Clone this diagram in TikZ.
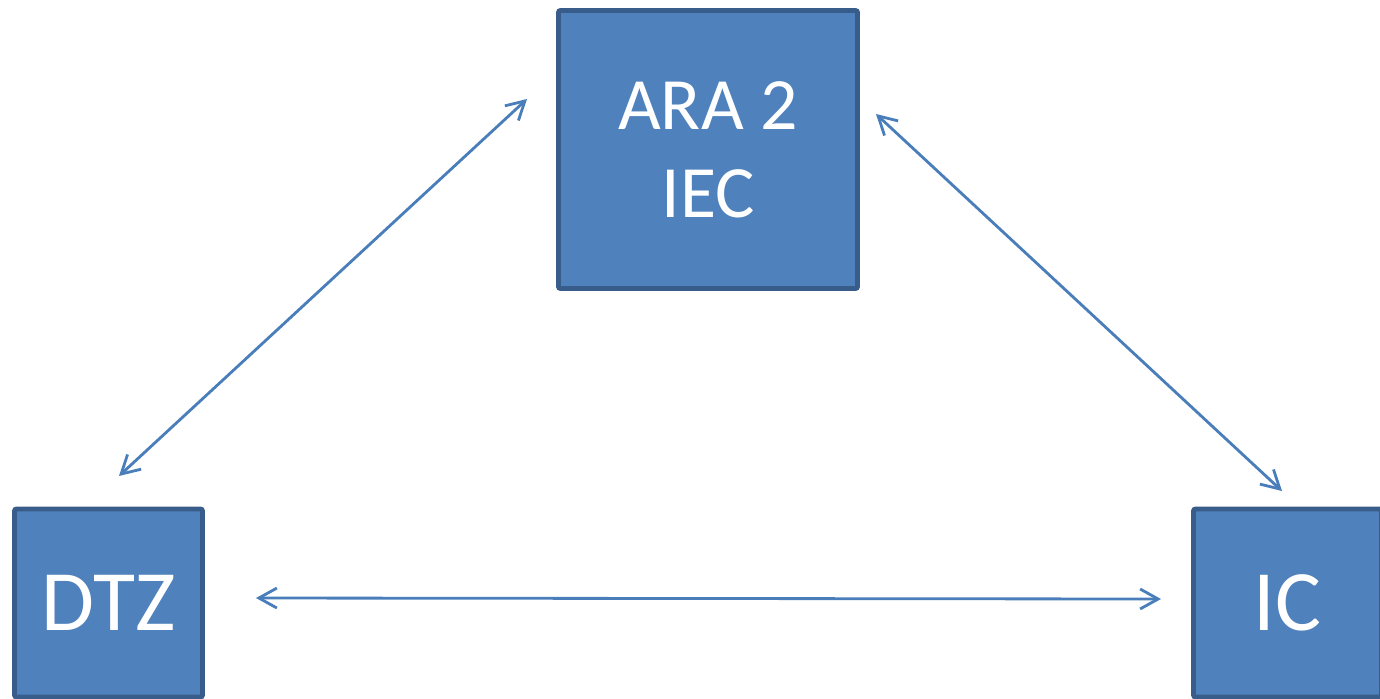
\documentclass[tikz,border=0pt]{standalone}
\usepackage{fontspec}
\setmainfont{Carlito}
\usepackage{xcolor}
\usetikzlibrary{arrows.meta,positioning}
\definecolor{boxfill}{HTML}{4F81BD}
\definecolor{boxline}{HTML}{385D8A}
\definecolor{linkblue}{HTML}{4A7EBB}

\begin{document}
\begin{tikzpicture}[font=\fontsize{21}{25}\selectfont,
   org/.style={draw=boxline,line width=1.4pt,rounded corners=0.6pt,fill=boxfill,
               text=white,align=center,inner sep=0pt},
   small/.style={org,minimum width=1.88cm,minimum height=1.88cm,
                 font=\fontsize{24.5}{28}\selectfont},
   link/.style={draw=linkblue,line width=0.8pt,
                {Straight Barb[length=1.8mm,width=2.0mm]}-{Straight Barb[length=1.8mm,width=2.0mm]}}]
  \useasboundingbox (0,0) rectangle (13.8,-6.98);
  \clip (0,0) rectangle (13.8,-6.98);
  \node[org,minimum width=2.99cm,minimum height=2.78cm] (ara) at (7.08,-1.495) {ARA 2\\IEC};
  \node[small] (dtz) at (1.085,-6.03) {DTZ};
  \node[small] (ic) at (12.875,-6.03) {IC};
  % link ends, kept clear of the boxes
  \coordinate (ara-l) at (5.27,-0.99);
  \coordinate (ara-r) at (8.76,-1.14);
  \coordinate (dtz-t) at (1.19,-4.76);
  \coordinate (dtz-r) at (2.56,-5.98);
  \coordinate (ic-t)  at (12.82,-4.91);
  \coordinate (ic-l)  at (11.61,-5.99);
  \draw[link] (ara-l) -- (dtz-t);
  \draw[link] (ara-r) -- (ic-t);
  \draw[link] (dtz-r) -- (ic-l);
\end{tikzpicture}
\end{document}
